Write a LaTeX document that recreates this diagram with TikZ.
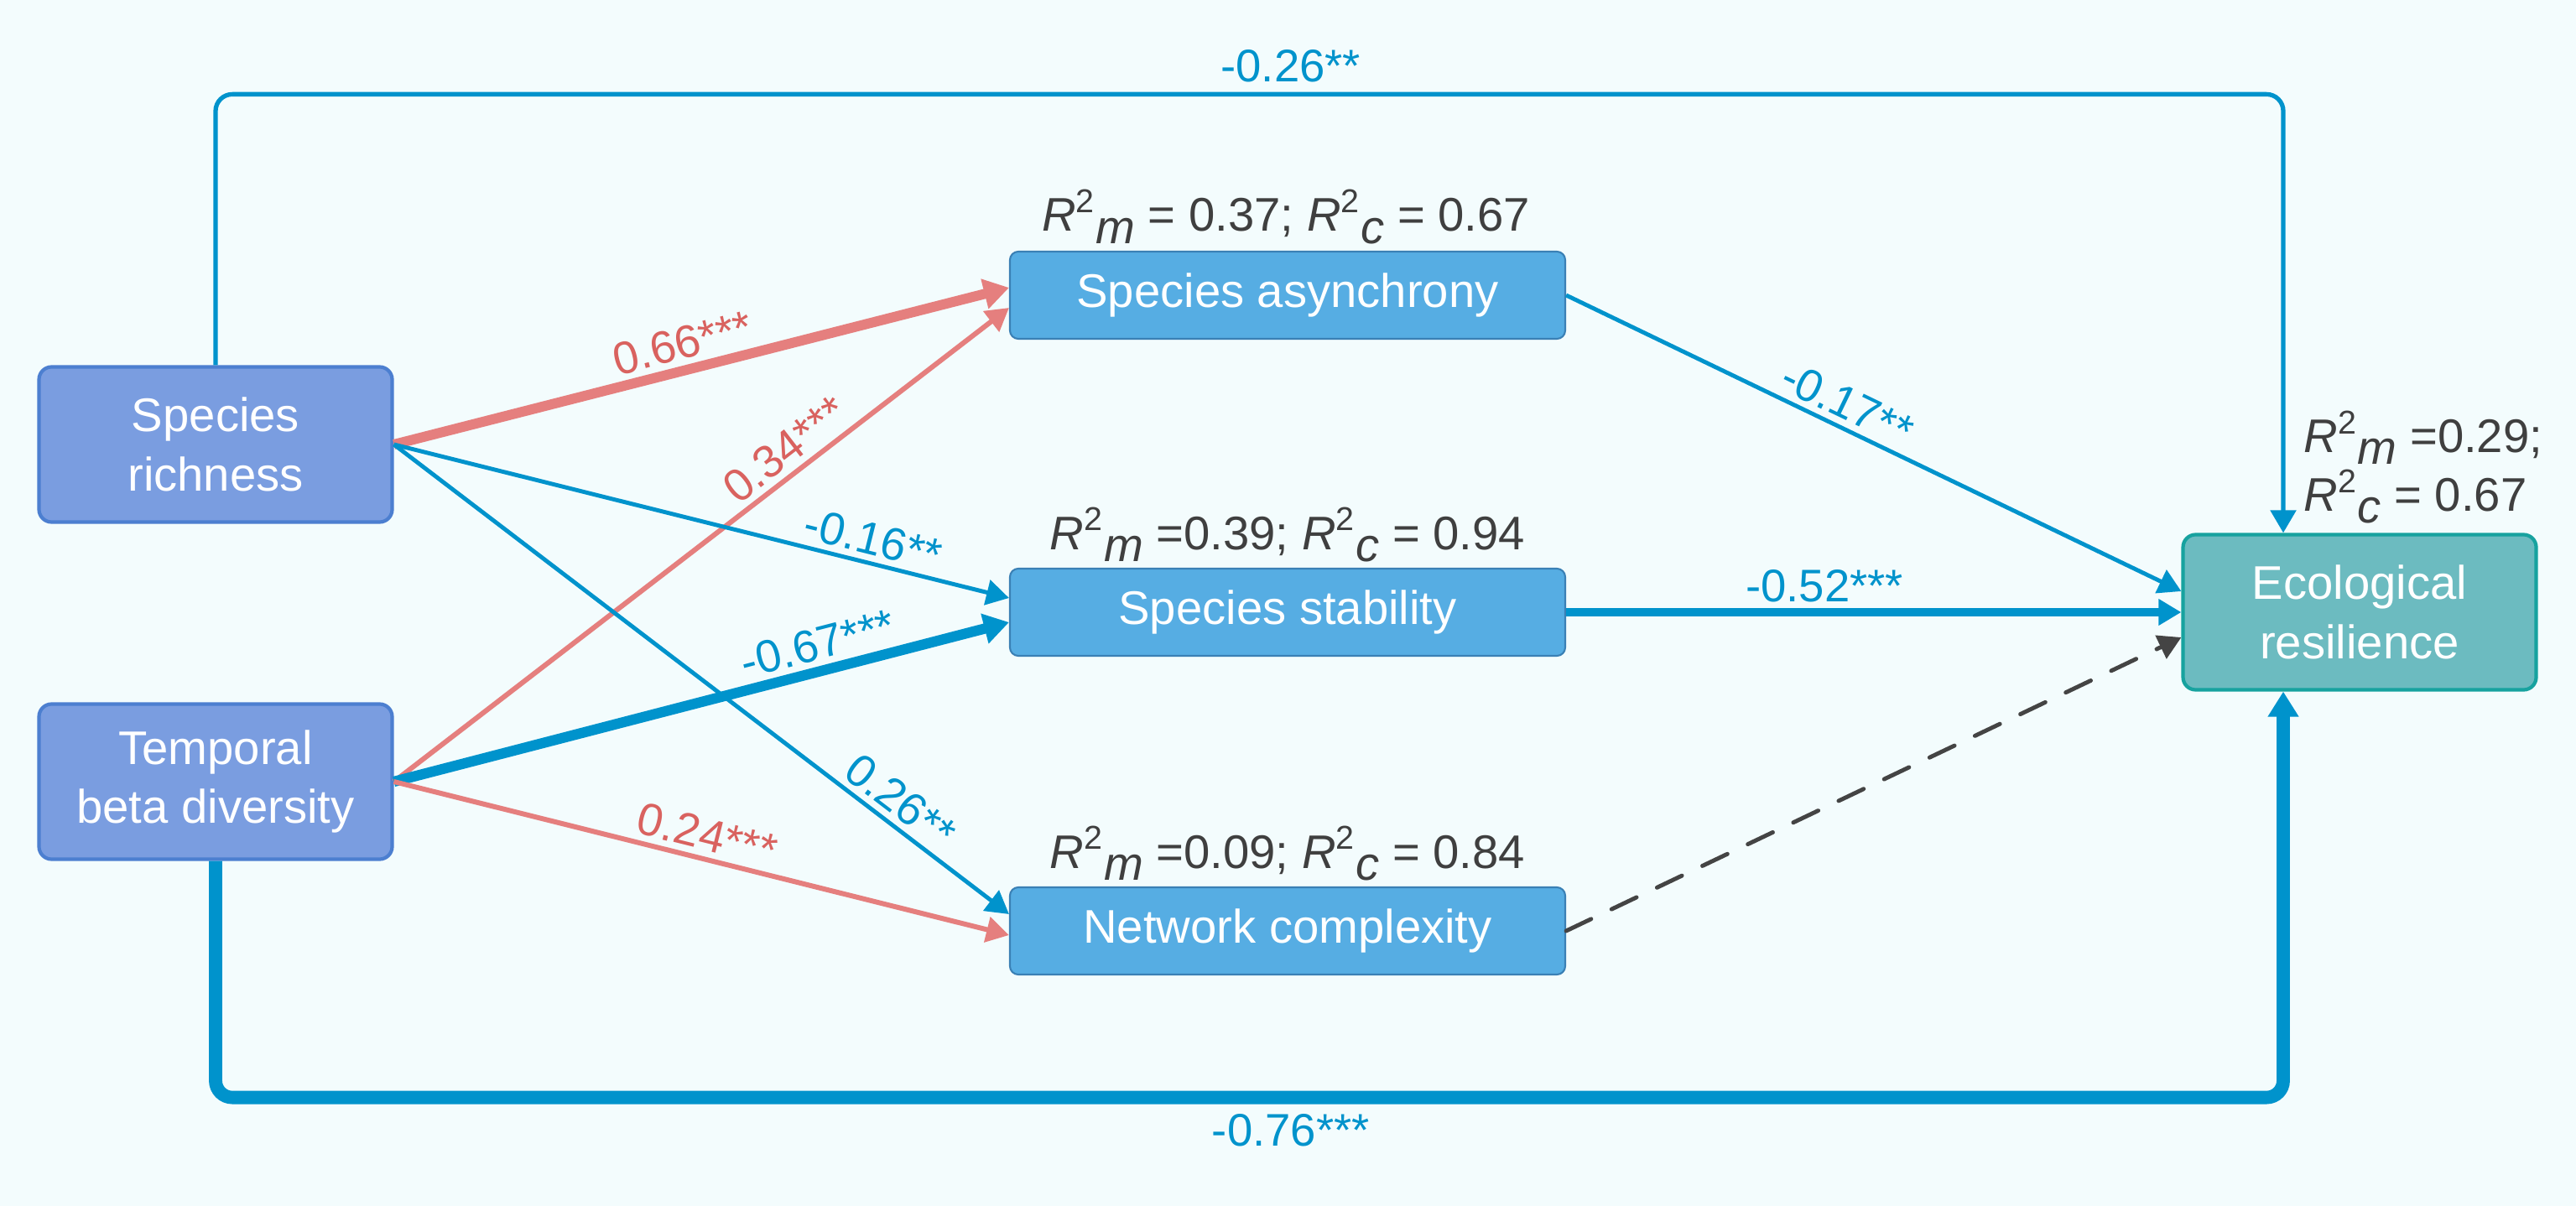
\documentclass[tikz,border=0pt]{standalone}
\usepackage{fontspec}
\setmainfont{Liberation Sans}
\usetikzlibrary{arrows.meta}

\definecolor{bgcol}{HTML}{F3FCFD}
\definecolor{exofill}{HTML}{7A9DE0}
\definecolor{exodraw}{HTML}{4C7FD0}
\definecolor{medfill}{HTML}{56ADE3}
\definecolor{meddraw}{HTML}{3A80B5}
\definecolor{respfill}{HTML}{6CBBC0}
\definecolor{respdraw}{HTML}{17A29F}
\definecolor{edgeblue}{HTML}{0093CC}
\definecolor{edgered}{HTML}{E57F7E}
\definecolor{labred}{HTML}{D9625F}
\definecolor{dashgray}{HTML}{444444}
\definecolor{textgray}{HTML}{3F3F3F}

\newcommand{\rsq}[1]{\textit{R}\textsuperscript{2}\raisebox{-0.25em}{\textit{#1}}}

\begin{document}
\begin{tikzpicture}[line width=1.4pt, >={Triangle[length=0.27cm,width=0.3cm]},
    exo/.style={draw=exodraw, fill=exofill, line width=1.2pt, rounded corners=0.15cm,
      minimum width=4.21cm, minimum height=1.85cm, align=center, text=white,
      font=\fontsize{16}{20}\selectfont},
    med/.style={draw=meddraw, fill=medfill, line width=0.6pt, rounded corners=0.1cm,
      minimum width=6.62cm, minimum height=1.04cm, text=white,
      font=\fontsize{16}{20}\selectfont},
    resp/.style={exo, draw=respdraw, fill=respfill},
    r2/.style={text=textgray, font=\fontsize{16}{20}\selectfont, inner sep=0pt},
    lab/.style={sloped, above, inner sep=0.2em, font=\fontsize{15.5}{18}\selectfont},
    negpath/.style={draw=edgeblue, ->},
    pospath/.style={draw=edgered, ->},
    bigtip/.style={-{Triangle[length=0.3cm,width=0.35cm]}}]

   	 \fill[bgcol] (0,0) rectangle (30.71,-14.38);
   	 \useasboundingbox (0,0) rectangle (30.71,-14.38);

   	 % boxes
   	 \node[exo] (rich) at (2.57,-5.30) {Species\\richness};
   	 \node[exo] (beta) at (2.57,-9.32) {Temporal\\beta diversity};
   	 \node[med] (async) at (15.35,-3.52) {Species asynchrony};
   	 \node[med] (stab) at (15.35,-7.30) {Species stability};
   	 \node[med] (netw) at (15.35,-11.10) {Network complexity};
   	 \node[resp] (resil) at (28.13,-7.30) {Ecological\\resilience};

   	 % explained variance
   	 \node[r2, anchor=base] (asyncR) at (15.33,-2.76) {\rsq{m} = 0.37; \rsq{c} = 0.67};
   	 \node[r2, anchor=base] (stabR) at (15.35,-6.55) {\rsq{m} =0.39; \rsq{c} = 0.94};
   	 \node[r2, anchor=base] (netwR) at (15.35,-10.35) {\rsq{m} =0.09; \rsq{c} = 0.84};
   	 \node[r2, anchor=west, align=left] (resilR) at (27.44,-5.57) {\rsq{m} =0.29;\\\rsq{c} = 0.67};

   	 % paths into the mediators
   	 \draw[pospath, line width=3.4pt, bigtip] (rich.east) -- node[lab, pos=0.48, text=labred] {0.66***} ([yshift=0.09cm]async.west);
   	 \draw[pospath, line width=1.7pt] (beta.east) -- node[lab, pos=0.66, text=labred] {0.34***} ([yshift=-0.15cm]async.west);
   	 \draw[negpath] (rich.east) -- node[lab, pos=0.77, text=edgeblue] {-0.16**} ([yshift=0.17cm]stab.west);
   	 \draw[negpath, line width=3.5pt, bigtip] (beta.east) -- node[lab, pos=0.70, text=edgeblue] {-0.67***} ([yshift=-0.12cm]stab.west);
   	 \draw[negpath] (rich.east) -- node[lab, pos=0.80, text=edgeblue] {0.26**} ([yshift=0.20cm]netw.west);
   	 \draw[pospath, line width=1.7pt] (beta.east) -- node[lab, pos=0.50, text=labred] {0.24***} ([yshift=-0.05cm]netw.west);

   	 % paths into resilience
   	 \draw[negpath] (async.east) -- node[lab, pos=0.44, text=edgeblue] {-0.17**} ([yshift=0.25cm]resil.west);
   	 \draw[negpath, line width=2.6pt] (stab.east) -- node[lab, pos=0.42, text=edgeblue] {-0.52***} (resil.west);
   	 \draw[draw=dashgray, line width=1.4pt, dash pattern=on 0.33cm off 0.27cm, line cap=round, ->] (netw.east) -- ([yshift=-0.30cm]resil.west);

   	 % direct effects
   	 \coordinate (ertop) at ([xshift=-0.91cm]resil.north);
   	 \coordinate (erbot) at ([xshift=-0.91cm]resil.south);
   	 \draw[negpath, line width=1.5pt, rounded corners=0.2cm] (rich.north) |- node[pos=0.76, above, text=edgeblue, font=\fontsize{15.5}{18}\selectfont] {-0.26**} ([yshift=5.23cm]ertop) -- (ertop);
   	 \draw[negpath, line width=4.5pt, rounded corners=0.2cm, bigtip] (beta.south) |- node[pos=0.76, below, text=edgeblue, font=\fontsize{15.5}{18}\selectfont] {-0.76***} ([yshift=-4.84cm]erbot) -- (erbot);
\end{tikzpicture}
\end{document}
